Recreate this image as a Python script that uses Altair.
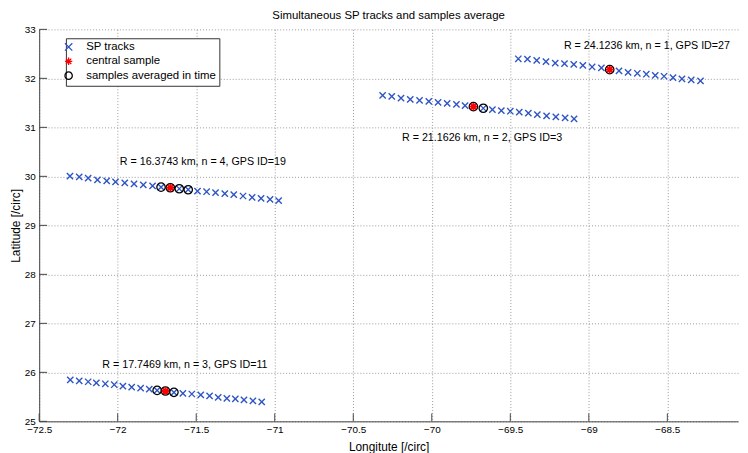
import altair as alt
import pandas as pd

# ---- data ----
# GPS ID=27 (n = 1)
t27_lon = [-69.449, -69.391, -69.332, -69.273, -69.214, -69.155, -69.096, -69.038, -68.979, -68.920,
           -68.867, -68.808, -68.750, -68.691, -68.634, -68.577, -68.521, -68.464, -68.407, -68.348, -68.289]
t27_lat = [32.400, 32.393, 32.366, 32.340, 32.313, 32.299, 32.286, 32.265, 32.232, 32.212,
           32.178, 32.151, 32.124, 32.104, 32.084, 32.063, 32.043, 32.016, 31.989, 31.969, 31.949]
# GPS ID=3 (n = 2)
t3_lon = [-70.313, -70.255, -70.196, -70.137, -70.078, -70.019, -69.960, -69.902, -69.843, -69.788,
          -69.735, -69.672, -69.614, -69.557, -69.500, -69.443, -69.385, -69.328, -69.269, -69.210, -69.151, -69.094]
t3_lat = [31.652, 31.632, 31.598, 31.572, 31.551, 31.531, 31.511, 31.491, 31.471, 31.444,
          31.423, 31.390, 31.363, 31.343, 31.329, 31.309, 31.289, 31.262, 31.235, 31.215, 31.194, 31.174]
# GPS ID=19 (n = 4)
t19_lon = [-72.304, -72.245, -72.188, -72.129, -72.070, -72.014, -71.955, -71.896, -71.837, -71.778,
           -71.724, -71.665, -71.608, -71.551, -71.492, -71.434, -71.377, -71.318, -71.261, -71.202,
           -71.144, -71.087, -71.030, -70.975]
t19_lat = [30.003, 29.989, 29.962, 29.929, 29.908, 29.888, 29.868, 29.848, 29.828, 29.807,
           29.780, 29.767, 29.747, 29.727, 29.700, 29.686, 29.666, 29.646, 29.626, 29.599,
           29.572, 29.552, 29.531, 29.504]
# GPS ID=11 (n = 3)
t11_lon = [-72.302, -72.245, -72.188, -72.136, -72.079, -72.022, -71.967, -71.911, -71.854, -71.799,
           -71.749, -71.696, -71.642, -71.585, -71.528, -71.471, -71.415, -71.360, -71.305, -71.251,
           -71.196, -71.139, -71.083]
t11_lat = [25.848, 25.828, 25.808, 25.787, 25.767, 25.747, 25.720, 25.700, 25.680, 25.659,
           25.632, 25.619, 25.592, 25.572, 25.558, 25.538, 25.518, 25.491, 25.471, 25.457,
           25.437, 25.417, 25.397]

central_idx = [10, 10, 11, 11]
averaged_idx = [[10], [10, 11], [10, 11, 12, 13], [10, 11, 12]]

label_text = ["R = 24.1236 km, n = 1, GPS ID=27", "R = 21.1626 km, n = 2, GPS ID=3",
              "R = 16.3743 km, n = 4, GPS ID=19", "R = 17.7469 km, n = 3, GPS ID=11"]
label_lon = [-68.630, -69.680, -71.458, -71.572]
label_lat = [32.656, 30.790, 30.285, 26.158]

x_ticks = [-72.5, -72, -71.5, -71, -70.5, -70, -69.5, -69, -68.5]
y_ticks = [25, 26, 27, 28, 29, 30, 31, 32, 33]

series_names = ["SP tracks", "central sample", "samples averaged in time"]
series_colors = ["#2f55c4", "#ff0000", "#000000"]

# ---- tables ----
tracks = [(t27_lon, t27_lat), (t3_lon, t3_lat), (t19_lon, t19_lat), (t11_lon, t11_lat)]
rows_tr, rows_c, rows_a = [], [], []
for k, (lons, lats) in enumerate(tracks):
    for i, (lo, la) in enumerate(zip(lons, lats)):
        rows_tr.append({"lon": lo, "lat": la, "series": series_names[0]})
        if i in averaged_idx[k]:
            rows_a.append({"lon": lo, "lat": la, "series": series_names[2]})
        if i == central_idx[k]:
            rows_c.append({"lon": lo, "lat": la, "series": series_names[1]})
df_tr = pd.DataFrame(rows_tr)
df_a = pd.DataFrame(rows_a)
df_c = pd.DataFrame(rows_c)
df_lab = pd.DataFrame({"lon": label_lon, "lat": label_lat, "text": label_text})
df_xt = pd.DataFrame({"lon": x_ticks})
df_yt = pd.DataFrame({"lat": y_ticks})

FONT = "Liberation Sans"
W, H = 706, 396
AXIS_COLOR = "#444444"

xscale = alt.Scale(domain=[-72.5, -68.05], nice=False, zero=False)
yscale = alt.Scale(domain=[25, 33], nice=False, zero=False)
xaxis = alt.Axis(values=x_ticks, ticks=False, labelPadding=3, labelFlush=False, labelOverlap=False,
                 grid=True, gridDash=[1, 2], gridColor="#9a9a9a", domainColor=AXIS_COLOR,
                 labelFont=FONT, labelFontSize=10, labelColor="black", format="~g",
                 titleFont=FONT, titleFontSize=12, titleFontWeight="normal", titleColor="black",
                 titlePadding=7)
yaxis = alt.Axis(values=y_ticks, ticks=False, labelPadding=4, labelFlush=False, labelOverlap=False,
                 grid=True, gridDash=[1, 2], gridColor="#9a9a9a", domainColor=AXIS_COLOR,
                 labelFont=FONT, labelFontSize=10, labelColor="black", format="~g",
                 titleFont=FONT, titleFontSize=12, titleFontWeight="normal", titleColor="black",
                 titlePadding=2)

X = alt.X("lon:Q", scale=xscale, axis=xaxis, title="Longitute [/circ]")
Y = alt.Y("lat:Q", scale=yscale, axis=yaxis, title="Latitude [/circ]")

xpath = "M-1,-1L1,1M-1,1L1,-1"
starpath = "M0,-1L0,1M-1,0L1,0M-0.72,-0.72L0.72,0.72M-0.72,0.72L0.72,-0.72"

legend = alt.Legend(orient="none", legendX=27, legendY=9, title=None, symbolSize=55,
                    symbolOffset=-6, labelOffset=12)
color = alt.Color("series:N", scale=alt.Scale(domain=series_names, range=series_colors),
                  title=None, legend=legend)
shape = alt.Shape("series:N", scale=alt.Scale(domain=series_names, range=[xpath, starpath, "circle"]),
                  title=None, legend=legend)

pts = alt.Chart(df_tr).mark_point(filled=False, strokeWidth=1.4, opacity=1, size=40).encode(
    x=X, y=Y, color=color, shape=shape)
circ = alt.Chart(df_a).mark_point(filled=False, strokeWidth=1.3, opacity=1, size=72).encode(
    x=X, y=Y, color=color, shape=shape)
star = alt.Chart(df_c).mark_point(filled=False, strokeWidth=1.8, opacity=1, size=56).encode(
    x=X, y=Y, color=color, shape=shape)

labels = alt.Chart(df_lab).mark_text(font=FONT, fontSize=10.8, color="black", align="center",
                                     baseline="middle").encode(x=X, y=Y, text="text:N")

xt = alt.Chart(df_xt).mark_rule(color=AXIS_COLOR, strokeWidth=1).encode(
    x=X, y=alt.value(H), y2=alt.value(H - 8))
yt = alt.Chart(df_yt).mark_rule(color=AXIS_COLOR, strokeWidth=1).encode(
    y=Y, x=alt.value(0), x2=alt.value(8))

chart = alt.layer(xt, yt, pts, circ, star, labels).properties(
    width=W, height=H,
    autosize=alt.AutoSizeParams(type="none"),
    padding={"left": 31.5, "top": 19.3, "right": 2, "bottom": 30},
    title=alt.TitleParams("Simultaneous SP tracks and samples average", font=FONT, fontSize=11.5,
                          fontWeight="normal", color="black", anchor="middle", offset=3),
).configure_view(stroke=None).configure_legend(
    fillColor="white", strokeColor="#333333",
    padding=3, rowPadding=0.5,
    labelFont=FONT, labelFontSize=11.5, labelColor="black", symbolStrokeWidth=1.3,
    cornerRadius=0,
)

chart.save("out.html", embed_options={"renderer": "svg", "actions": False})
